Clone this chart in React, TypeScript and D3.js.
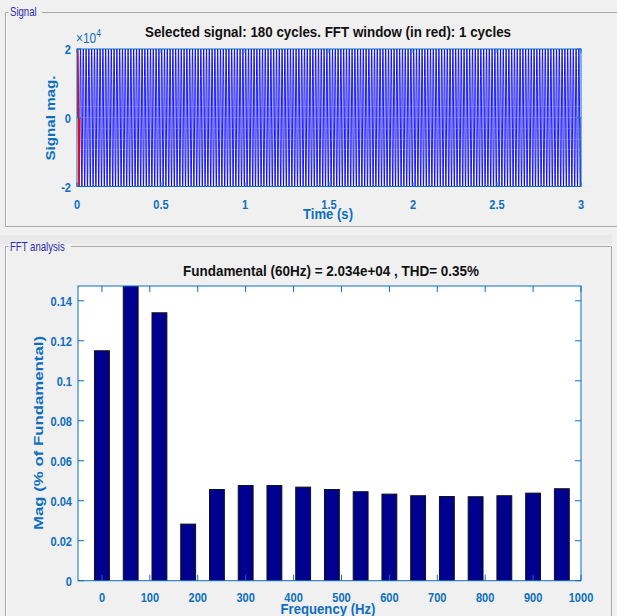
import React from "react";
import * as d3 from "d3";

// Signal parameters
const FUND_HZ = 60;
const FUND_MAG = 2.034e4;
const SIM_CYCLES = 180;
const FFT_CYCLES = 1;
const THD_PCT = 0.35;

// Harmonic spectrum (% of fundamental), 60 Hz steps
const harmonicFreqs = [0, 60, 120, 180, 240, 300, 360, 420, 480, 540, 600, 660, 720, 780, 840, 900, 960];
const harmonicMags = [0.115, 100, 0.134, 0.0283, 0.0456, 0.0476, 0.0476, 0.0468, 0.0456, 0.0445, 0.0433, 0.0425, 0.0421, 0.042, 0.0425, 0.0438, 0.046];

// Axis ticks
const timeTicks = [0, 0.5, 1, 1.5, 2, 2.5, 3];
const sigTicks = [-2e4, 0, 2e4];
const freqTicks = [0, 100, 200, 300, 400, 500, 600, 700, 800, 900, 1000];
const magTicks = [0, 0.02, 0.04, 0.06, 0.08, 0.1, 0.12, 0.14];

const AX = "#0d6fbe";
const FONT = "'Liberation Sans', Arial, sans-serif";
const SX = 0.85;

function Label({ x, y, anchor = "middle", size = 13, weight = "bold", fill = AX, sx = SX, children }: any) {
  return (
    <g transform={`translate(${x},${y}) scale(${sx},1)`}>
      <text textAnchor={anchor} fontSize={size} fontWeight={weight} fill={fill} fontFamily={FONT}>
        {children}
      </text>
    </g>
  );
}

export default function App() {
  const W = 617, H = 616;

  // ---- top: time signal ----
  const tDur = SIM_CYCLES / FUND_HZ;
  const xT = d3.scaleLinear().domain([0, 3]).range([77, 581]);
  const yT = d3.scaleLinear().domain([-2e4, 2e4]).range([186.5, 49]);
  const samplesPerCycle = 40;
  const nSamples = SIM_CYCLES * samplesPerCycle;
  const sig = (t: number) =>
    harmonicFreqs.reduce(
      (s, f, i) => s + (harmonicMags[i] / 100) * FUND_MAG * (f === 0 ? 1 : Math.sin(2 * Math.PI * f * t)),
      0
    );
  const pts: [number, number][] = d3.range(nSamples + 1).map((i) => {
    const t = (i / nSamples) * tDur;
    return [t, sig(t)];
  });
  const win = pts.filter((p) => p[0] <= FFT_CYCLES / FUND_HZ + 1e-9);
  const line = d3.line<[number, number]>().x((d) => xT(d[0])).y((d) => yT(d[1]));

  // ---- bottom: spectrum ----
  const xF = d3.scaleLinear().domain([-50, 1000]).range([78, 581]);
  const others = harmonicMags.filter((_, i) => harmonicFreqs[i] !== FUND_HZ);
  const yMax = 1.1 * d3.max(others)!;
  const yF = d3.scaleLinear().domain([0, yMax]).range([580.7, 286]);
  const barW = xF(31) - xF(0);

  const tTop = 49, tBot = 186.5, tL = 77, tR = 581;
  const fTop = 286, fBot = 580.7, fL = 78, fR = 581;

  return (
    <svg width={W} height={H} style={{ position: "absolute", left: 0, top: 0, background: "#f0f0f0" }}>
      <defs>
        <clipPath id="clipT">
          <rect x={tL} y={tTop} width={tR - tL} height={tBot - tTop} />
        </clipPath>
        <clipPath id="clipF">
          <rect x={fL} y={fTop} width={fR - fL} height={fBot - fTop} />
        </clipPath>
      </defs>
      <rect width={W} height={H} fill="#f0f0f0" />

      {/* panel frames */}
      <g fill="none">
        <path d="M8.5,12.5 H5.5 V226.5 H617" stroke="#a9a9a9" />
        <path d="M42,12.5 H617" stroke="#a9a9a9" />
        <path d="M6.5,13.5 V225.5" stroke="#ffffff" />
        <rect x={0} y={235} width={612} height={9} fill="#e9e9e9" stroke="none" />
        <path d="M8.5,246.5 H5.5 V616" stroke="#a9a9a9" />
        <path d="M71,246.5 H611.5 V616" stroke="#a9a9a9" />
        <path d="M6.5,247.5 V616" stroke="#ffffff" />
      </g>
      <Label x={10} y={16} anchor="start" size={12} weight="normal" fill="#2a2ab4" sx={0.8}>Signal</Label>
      <Label x={10} y={251} anchor="start" size={12} weight="normal" fill="#2a2ab4" sx={0.8}>FFT analysis</Label>

      {/* ===== signal plot ===== */}
      <rect x={tL} y={tTop} width={tR - tL} height={tBot - tTop} fill="#ffffff" />
      <g clipPath="url(#clipT)">
        <path d={line(pts)!} fill="none" stroke="#0000ff" strokeWidth={0.9} />
        <path d={line(win)!} fill="none" stroke="#ff0000" strokeWidth={1.2} />
      </g>
      <rect x={tL} y={tTop} width={tR - tL} height={tBot - tTop} fill="none" stroke={AX} strokeWidth={1} />
      {timeTicks.map((t) => (
        <g key={t}>
          <line x1={xT(t)} x2={xT(t)} y1={tBot} y2={tBot - 4} stroke={AX} />
          <line x1={xT(t)} x2={xT(t)} y1={tTop} y2={tTop + 4} stroke={AX} />
          <Label x={xT(t)} y={209}>{String(t)}</Label>
        </g>
      ))}
      {sigTicks.map((v) => (
        <g key={v}>
          <line x1={tL} x2={tL + 4} y1={yT(v)} y2={yT(v)} stroke={AX} />
          <line x1={tR} x2={tR - 4} y1={yT(v)} y2={yT(v)} stroke={AX} />
          <Label x={71} y={yT(v) + 5} anchor="end">{String(v / 1e4)}</Label>
        </g>
      ))}
      <g transform="translate(76,43) scale(0.85,1)">
        <text fontSize={14} fill={AX} fontFamily={FONT}>
          ×10<tspan fontSize={10} dy={-6}>4</tspan>
        </text>
      </g>
      <text x={328} y={37} textAnchor="middle" fontSize={15} fontWeight="bold" fill="#111" fontFamily={FONT}
        textLength={366} lengthAdjust="spacingAndGlyphs">
        {`Selected signal: ${SIM_CYCLES} cycles. FFT window (in red): ${FFT_CYCLES} cycles`}
      </text>
      <text x={328} y={219} textAnchor="middle" fontSize={15} fontWeight="bold" fill={AX} fontFamily={FONT}
        textLength={50} lengthAdjust="spacingAndGlyphs">Time (s)</text>
      <g transform="translate(55,118) rotate(-90) scale(1,0.9)">
        <text textAnchor="middle" fontSize={15} fontWeight="bold" fill={AX} fontFamily={FONT}
          textLength={85} lengthAdjust="spacingAndGlyphs">Signal mag.</text>
      </g>

      {/* ===== spectrum plot ===== */}
      <rect x={fL} y={fTop} width={fR - fL} height={fBot - fTop} fill="#ffffff" />
      <g clipPath="url(#clipF)">
        {harmonicFreqs.map((f, i) => (
          <rect key={f} x={xF(f) - barW / 2} y={yF(harmonicMags[i])} width={barW}
            height={fBot - yF(harmonicMags[i])} fill="#00008f" stroke="#111" strokeWidth={1} />
        ))}
      </g>
      <rect x={fL} y={fTop} width={fR - fL} height={fBot - fTop} fill="none" stroke={AX} strokeWidth={1} />
      {freqTicks.map((f) => (
        <g key={f}>
          <line x1={xF(f)} x2={xF(f)} y1={fBot} y2={fBot - 6} stroke={AX} />
          <line x1={xF(f)} x2={xF(f)} y1={fTop} y2={fTop + 6} stroke={AX} />
          <Label x={xF(f)} y={602}>{String(f)}</Label>
        </g>
      ))}
      {magTicks.map((v) => (
        <g key={v}>
          <line x1={fL} x2={fL + 6} y1={yF(v)} y2={yF(v)} stroke={AX} />
          <line x1={fR} x2={fR - 6} y1={yF(v)} y2={yF(v)} stroke={AX} />
          <Label x={72} y={yF(v) + 5} anchor="end">{String(v)}</Label>
        </g>
      ))}
      <text x={331} y={276} textAnchor="middle" fontSize={15} fontWeight="bold" fill="#111" fontFamily={FONT}
        textLength={296} lengthAdjust="spacingAndGlyphs">
        {`Fundamental (${FUND_HZ}Hz) = ${FUND_MAG.toExponential(3).replace("e+", "e+0")} , THD= ${THD_PCT}%`}
      </text>
      <text x={328} y={614} textAnchor="middle" fontSize={15} fontWeight="bold" fill={AX} fontFamily={FONT}
        textLength={95} lengthAdjust="spacingAndGlyphs">Frequency (Hz)</text>
      <g transform="translate(43,433) rotate(-90) scale(1,0.9)">
        <text textAnchor="middle" fontSize={15} fontWeight="bold" fill={AX} fontFamily={FONT}
          textLength={194} lengthAdjust="spacingAndGlyphs">Mag (% of Fundamental)</text>
      </g>
    </svg>
  );
}
